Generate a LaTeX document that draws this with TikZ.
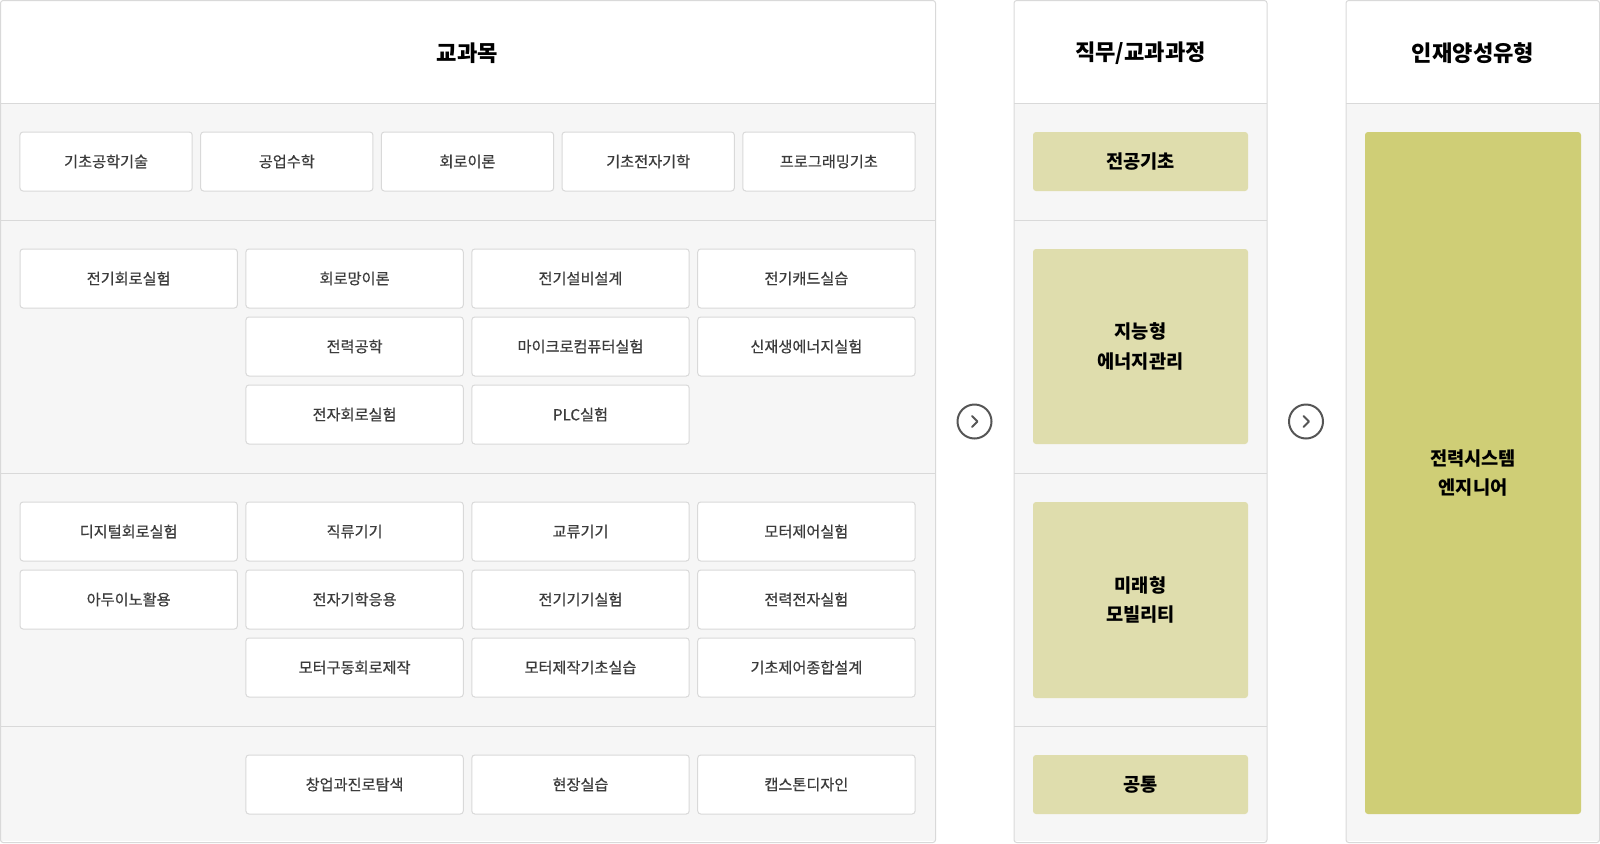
\documentclass[tikz,border=0pt]{standalone}
\usepackage{fontspec}
\newfontfamily\kr{Noto Sans CJK KR}
\newfontfamily\krm[FakeBold=0.5]{Noto Sans CJK KR}
\usetikzlibrary{positioning}
\definecolor{lineGray}{HTML}{D9D9D9}
\definecolor{panelBg}{HTML}{F6F6F6}
\definecolor{txtGray}{HTML}{3C3C3C}
\definecolor{jobFill}{HTML}{DFDDAD}
\definecolor{typeFill}{HTML}{CFCE76}
\definecolor{iconGray}{HTML}{555555}
\tikzset{
  subj/.style={draw=lineGray, fill=white, rounded corners=2.25pt, line width=0.75pt, minimum height=44.25pt, inner sep=0pt, font=\krm\fontsize{11.4}{13}\selectfont, text=txtGray},
  subjA/.style={subj, minimum width=129.2pt},
  subjB/.style={subj, minimum width=163pt},
  job/.style={fill=jobFill, rounded corners=2.25pt, minimum width=161.25pt, inner sep=0pt, align=center, font=\kr\bfseries\fontsize{14}{22}\selectfont},
  head/.style={font=\kr\bfseries\fontsize{16.6}{18}\selectfont},
  nextbtn/.style={circle, draw=iconGray, line width=1.5pt, minimum size=25.5pt, inner sep=0pt}
}
\begin{document}
\begin{tikzpicture}[x=0.75pt,y=0.75pt,yscale=-1,xscale=1]
\useasboundingbox (0,0) rectangle (1600,843);
%panels
\foreach \l/\r in {0.5/935.5, 1014/1267, 1346/1599.5}{
  \fill[white, rounded corners=2pt] (\l,0.5) rectangle (\r,842.5);
  \fill[panelBg] (\l,103) rectangle (\r,841);
  \draw[lineGray, line width=0.75pt, rounded corners=2pt] (\l,0.5) rectangle (\r,842.5);
  \draw[lineGray, line width=0.75pt] (\l,103) -- (\r,103);
}
%row lines
\foreach \y in {220,473.5,726.5}{
  \draw[lineGray, line width=0.75pt] (0.5,\y) -- (935.5,\y);
  \draw[lineGray, line width=0.75pt] (1014,\y) -- (1267,\y);
}
% headers
\node[head] (hSubj) at (467.5,53) {교과목};
\node[head] (hJob) at (1140.5,53) {직무/교과과정};
\node[head] (hType) at (1473,53) {인재양성유형};
% row 1
\foreach \x/\n/\t in {106.1/a1/기초공학기술, 286.8/a2/공업수학, 467.5/a3/회로이론, 648.2/a4/기초전자기학, 828.9/a5/프로그래밍기초}
  \node[subjA] (\n) at (\x,161.5) {\t};
% row 2
\foreach \x/\y/\n/\t in {128.7/278.5/b11/전기회로실험, 354.6/278.5/b12/회로망이론, 580.5/278.5/b13/전기설비설계, 806.4/278.5/b14/전기캐드실습,
  354.6/346.5/b22/전력공학, 580.5/346.5/b23/마이크로컴퓨터실험, 806.4/346.5/b24/신재생에너지실험,
  354.6/414.5/b32/전자회로실험, 580.5/414.5/b33/PLC실험}
  \node[subjB] (\n) at (\x,\y) {\t};
% row 3
\foreach \x/\y/\n/\t in {128.7/531.5/c11/디지털회로실험, 354.6/531.5/c12/직류기기, 580.5/531.5/c13/교류기기, 806.4/531.5/c14/모터제어실험,
  128.7/599.5/c21/아두이노활용, 354.6/599.5/c22/전자기학응용, 580.5/599.5/c23/전기기기실험, 806.4/599.5/c24/전력전자실험,
  354.6/667.5/c32/모터구동회로제작, 580.5/667.5/c33/모터제작기초실습, 806.4/667.5/c34/기초제어종합설계}
  \node[subjB] (\n) at (\x,\y) {\t};
% row 4
\foreach \x/\n/\t in {354.6/d2/창업과진로탐색, 580.5/d3/현장실습, 806.4/d4/캡스톤디자인}
  \node[subjB] (\n) at (\x,784.5) {\t};
% job boxes
\node[job, minimum height=44.25pt] (jBase) at (1140.5,161.5) {전공기초};
\node[job, minimum height=146.25pt] (jEnergy) at (1140.5,346.5) {지능형\\에너지관리};
\node[job, minimum height=147pt] (jMobil) at (1140.5,600) {미래형\\모빌리티};
\node[job, minimum height=44.25pt] (jCommon) at (1140.5,784.5) {공통};
% type box
\node[job, fill=typeFill, minimum width=162pt, minimum height=511.5pt] (tPower) at (1473,473) {전력시스템\\엔지니어};
% next buttons
\foreach \x/\n in {974.5/go1, 1306/go2}{
  \node[nextbtn] (\n) at (\x,421.5) {};
  \draw[iconGray, line width=1.5pt, line cap=round, line join=round] ([shift={(-2.5,-5.5)}]\n.center) -- ([shift={(3,0)}]\n.center) -- ([shift={(-2.5,5.5)}]\n.center);
}
\end{tikzpicture}
\end{document}
